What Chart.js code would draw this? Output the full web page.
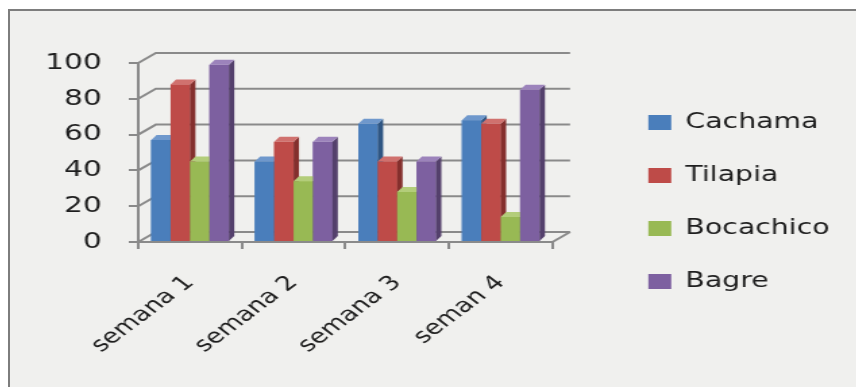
<!DOCTYPE html>
<html>
<head>
<meta charset="utf-8">
<title>Semanas</title>
<script src="https://cdn.jsdelivr.net/npm/chart.js@4.4.1/dist/chart.umd.min.js"></script>
<style>
  html, body { margin: 0; padding: 0; background: #fff; }
  #frame {
    position: absolute; left: 8px; top: 9px; width: 848px; height: 378px;
    border-top: 2px solid #7d7d7d; border-left: 2px solid #7d7d7d;
    background: #f0f0ee; overflow: hidden;
  }
  /* the chart is laid out narrow and widened, like the original sheet export */
  #chart { position: absolute; left: 0; top: 0; transform: scaleX(1.35); transform-origin: 0 0; }
</style>
</head>
<body>
<div id="frame"><canvas id="chart" width="627" height="376"></canvas></div>
<script>
// weekly values per species
const weeks = ["semana 1", "semana 2", "semana 3", "seman 4"];
const seriesNames = ["Cachama", "Tilapia", "Bocachico", "Bagre"];
const cachama = [57, 45, 66, 68];
const tilapia = [88, 56, 45, 66];
const bocachico = [45, 34, 28, 14];
const bagre = [99, 56, 45, 85];
const yTicks = [0, 20, 40, 60, 80, 100];

const faceColors = ["#4a7ebb", "#be4b48", "#98b954", "#7d60a0"];
const sideColors = ["#2f5683", "#842f2d", "#66803a", "#54406c"];
const topColors = ["#6f98cc", "#d0716e", "#b3cd7a", "#9c83bb"];

const WALL_DX = 13, WALL_DY = 10;   // depth of the back wall
const BAR_DX = 4, BAR_DY = 5;       // depth of each column
const GRID = "#8a8a8a";
const TEXT = "#1e1e1e";
const FONT = "DejaVu Sans";

// back wall gridlines with the short diagonals coming off the axis
const wallPlugin = {
  id: "wall3d",
  beforeDatasetsDraw(chart) {
    const { ctx, chartArea: a, scales: { y } } = chart;
    ctx.save();
    ctx.strokeStyle = GRID;
    ctx.lineWidth = 2;
    yTicks.forEach(v => {
      const py = y.getPixelForValue(v);
      ctx.beginPath();
      ctx.moveTo(a.left, py);
      ctx.lineTo(a.left + WALL_DX, py - WALL_DY);
      ctx.lineTo(a.right + WALL_DX, py - WALL_DY);
      ctx.stroke();
    });
    const p0 = y.getPixelForValue(0);
    ctx.beginPath();
    ctx.moveTo(a.right, p0);
    ctx.lineTo(a.right + WALL_DX, p0 - WALL_DY);
    ctx.stroke();
    ctx.restore();
  }
};

// redraw the columns left to right with side and top faces,
// so each column covers the side of the one before it
const barPlugin = {
  id: "bar3d",
  afterDatasetsDraw(chart) {
    const ctx = chart.ctx;
    ctx.save();
    chart.data.datasets.forEach((ds, i) => {
      chart.getDatasetMeta(i).data.forEach(bar => {
        const { x, y, base, width } = bar.getProps(["x", "y", "base", "width"], true);
        const l = x - width / 2, r = x + width / 2;
        ctx.fillStyle = faceColors[i];
        ctx.fillRect(l, y, width, base - y);
        ctx.fillStyle = sideColors[i];
        ctx.beginPath();
        ctx.moveTo(r, y);
        ctx.lineTo(r + BAR_DX, y - BAR_DY);
        ctx.lineTo(r + BAR_DX, base - BAR_DY);
        ctx.lineTo(r, base);
        ctx.closePath();
        ctx.fill();
        ctx.fillStyle = topColors[i];
        ctx.beginPath();
        ctx.moveTo(l, y);
        ctx.lineTo(l + BAR_DX, y - BAR_DY);
        ctx.lineTo(r + BAR_DX, y - BAR_DY);
        ctx.lineTo(r, y);
        ctx.closePath();
        ctx.fill();
      });
    });
    ctx.restore();
  }
};

// the week labels need the bottom strip, so lift the legend back level with the plot
// and let it use the full right margin
const legendNudge = {
  id: "legendNudge",
  afterLayout(chart) {
    const lg = chart.legend;
    lg.top -= 18;
    lg.bottom -= 18;
    lg.right = chart.width;
    lg.width = lg.right - lg.left;
  }
};

const values = [cachama, tilapia, bocachico, bagre];

new Chart(document.getElementById("chart"), {
  type: "bar",
  data: {
    labels: weeks,
    datasets: seriesNames.map((name, i) => ({
      label: name,
      data: values[i],
      backgroundColor: faceColors[i],
      borderWidth: 0,
      categoryPercentage: 0.75,
      barPercentage: 1
    }))
  },
  options: {
    responsive: false,
    animation: false,
    layout: { padding: { top: 52, left: 0, right: 98, bottom: 10 } },
    plugins: {
      tooltip: { enabled: false },
      legend: {
        position: "right",
        labels: {
          boxWidth: 17,
          boxHeight: 15,
          padding: 32,
          color: TEXT,
          font: { family: FONT, size: 21 }
        }
      }
    },
    scales: {
      x: {
        grid: { drawOnChartArea: false, drawTicks: true, tickLength: 7, color: GRID, lineWidth: 2, offset: true },
        border: { display: true, color: GRID, width: 2 },
        ticks: {
          autoSkip: false, minRotation: 45, maxRotation: 45, padding: 22,
          color: TEXT, font: { family: FONT, size: 20 }
        },
        afterFit: s => { s.height = 135; }
      },
      y: {
        min: 0, max: 100,
        grid: { drawOnChartArea: false, drawTicks: true, tickLength: 7, color: GRID, lineWidth: 2 },
        border: { display: true, color: GRID, width: 2 },
        ticks: { stepSize: 20, padding: 20, color: TEXT, font: { family: FONT, size: 22 } },
        afterFit: s => { s.width = 95; }
      },
      gap: {
        type: "linear", position: "right", display: true,
        grid: { display: false }, border: { display: false }, ticks: { display: false },
        afterFit: s => { s.width = 39; }
      }
    }
  },
  plugins: [wallPlugin, barPlugin, legendNudge]
});
</script>
</body>
</html>
